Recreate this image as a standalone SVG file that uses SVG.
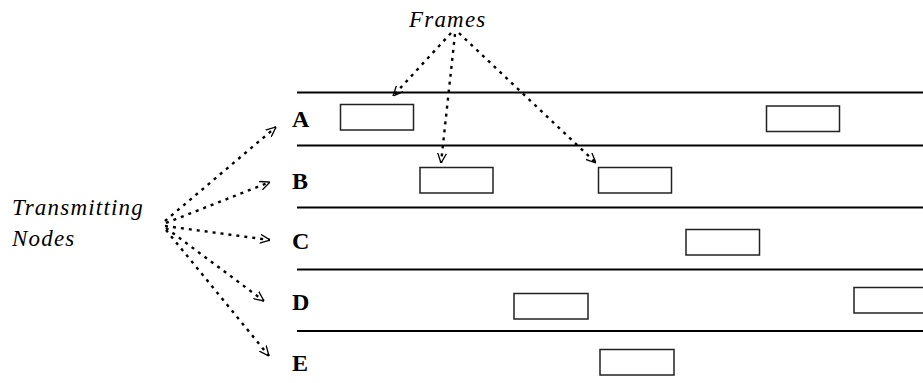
<svg xmlns="http://www.w3.org/2000/svg" width="923" height="383" viewBox="0 0 923 383">
<style>
.bus{stroke:#000;stroke-width:2;fill:none}
.frame{fill:#fff;stroke:#222;stroke-width:1.5}
.lbl{font-family:"Liberation Serif","Times New Roman",serif;font-weight:bold;font-size:24px;fill:#000}
.it{font-family:"Liberation Serif","Times New Roman",serif;font-style:italic;font-size:23px;letter-spacing:1.2px;fill:#000}
.dot{stroke:#000;stroke-width:2.4;fill:none;stroke-dasharray:3 5;marker-end:url(#ah)}
</style>
<defs>
<marker id="ah" viewBox="0 0 10 10" refX="10" refY="5" markerWidth="10" markerHeight="10" markerUnits="userSpaceOnUse" orient="auto">
<path d="M0,0.5 L10,5 L0,9.5" fill="none" stroke="#000" stroke-width="1.3"/>
</marker>
</defs>
<g id="buses">
<line class="bus" x1="297" y1="92.5" x2="923" y2="92.5"/>
<line class="bus" x1="297" y1="145.5" x2="923" y2="145.5"/>
<line class="bus" x1="297" y1="207.5" x2="923" y2="207.5"/>
<line class="bus" x1="297" y1="269.5" x2="923" y2="269.5"/>
<line class="bus" x1="297" y1="331" x2="923" y2="331"/>
</g>
<g id="node-A"><text class="lbl" x="292" y="127">A</text><rect class="frame" x="340.5" y="104.5" width="73" height="25.5"/><rect class="frame" x="766.5" y="106" width="73" height="25.5"/></g>
<g id="node-B"><text class="lbl" x="292" y="189">B</text><rect class="frame" x="420" y="167.5" width="73" height="25.5"/><rect class="frame" x="598.5" y="167.5" width="73" height="25.5"/></g>
<g id="node-C"><text class="lbl" x="292" y="249">C</text><rect class="frame" x="686" y="229.5" width="73.5" height="25.5"/></g>
<g id="node-D"><text class="lbl" x="292" y="310">D</text><rect class="frame" x="514" y="293.5" width="74" height="25.5"/><rect class="frame" x="854" y="287.5" width="80" height="25.5"/></g>
<g id="node-E"><text class="lbl" x="292" y="371">E</text><rect class="frame" x="600" y="349.5" width="74" height="25.5"/></g>
<g id="frames-label"><text class="it" x="409" y="27">Frames</text></g>
<g id="transmitting-label"><text class="it" x="12" y="215">Transmitting</text><text class="it" x="12" y="246">Nodes</text></g>
<g id="connectors">
<line class="dot" x1="451" y1="33" x2="393" y2="96"/>
<line class="dot" x1="455" y1="34" x2="441" y2="163"/>
<line class="dot" x1="459" y1="33" x2="596" y2="163"/>
<line class="dot" x1="165" y1="221" x2="276" y2="127"/>
<line class="dot" x1="166" y1="223" x2="270" y2="182"/>
<line class="dot" x1="165" y1="226" x2="270" y2="240"/>
<line class="dot" x1="166" y1="228" x2="264" y2="301"/>
<line class="dot" x1="166" y1="230" x2="269" y2="356"/>
</g>
</svg>
